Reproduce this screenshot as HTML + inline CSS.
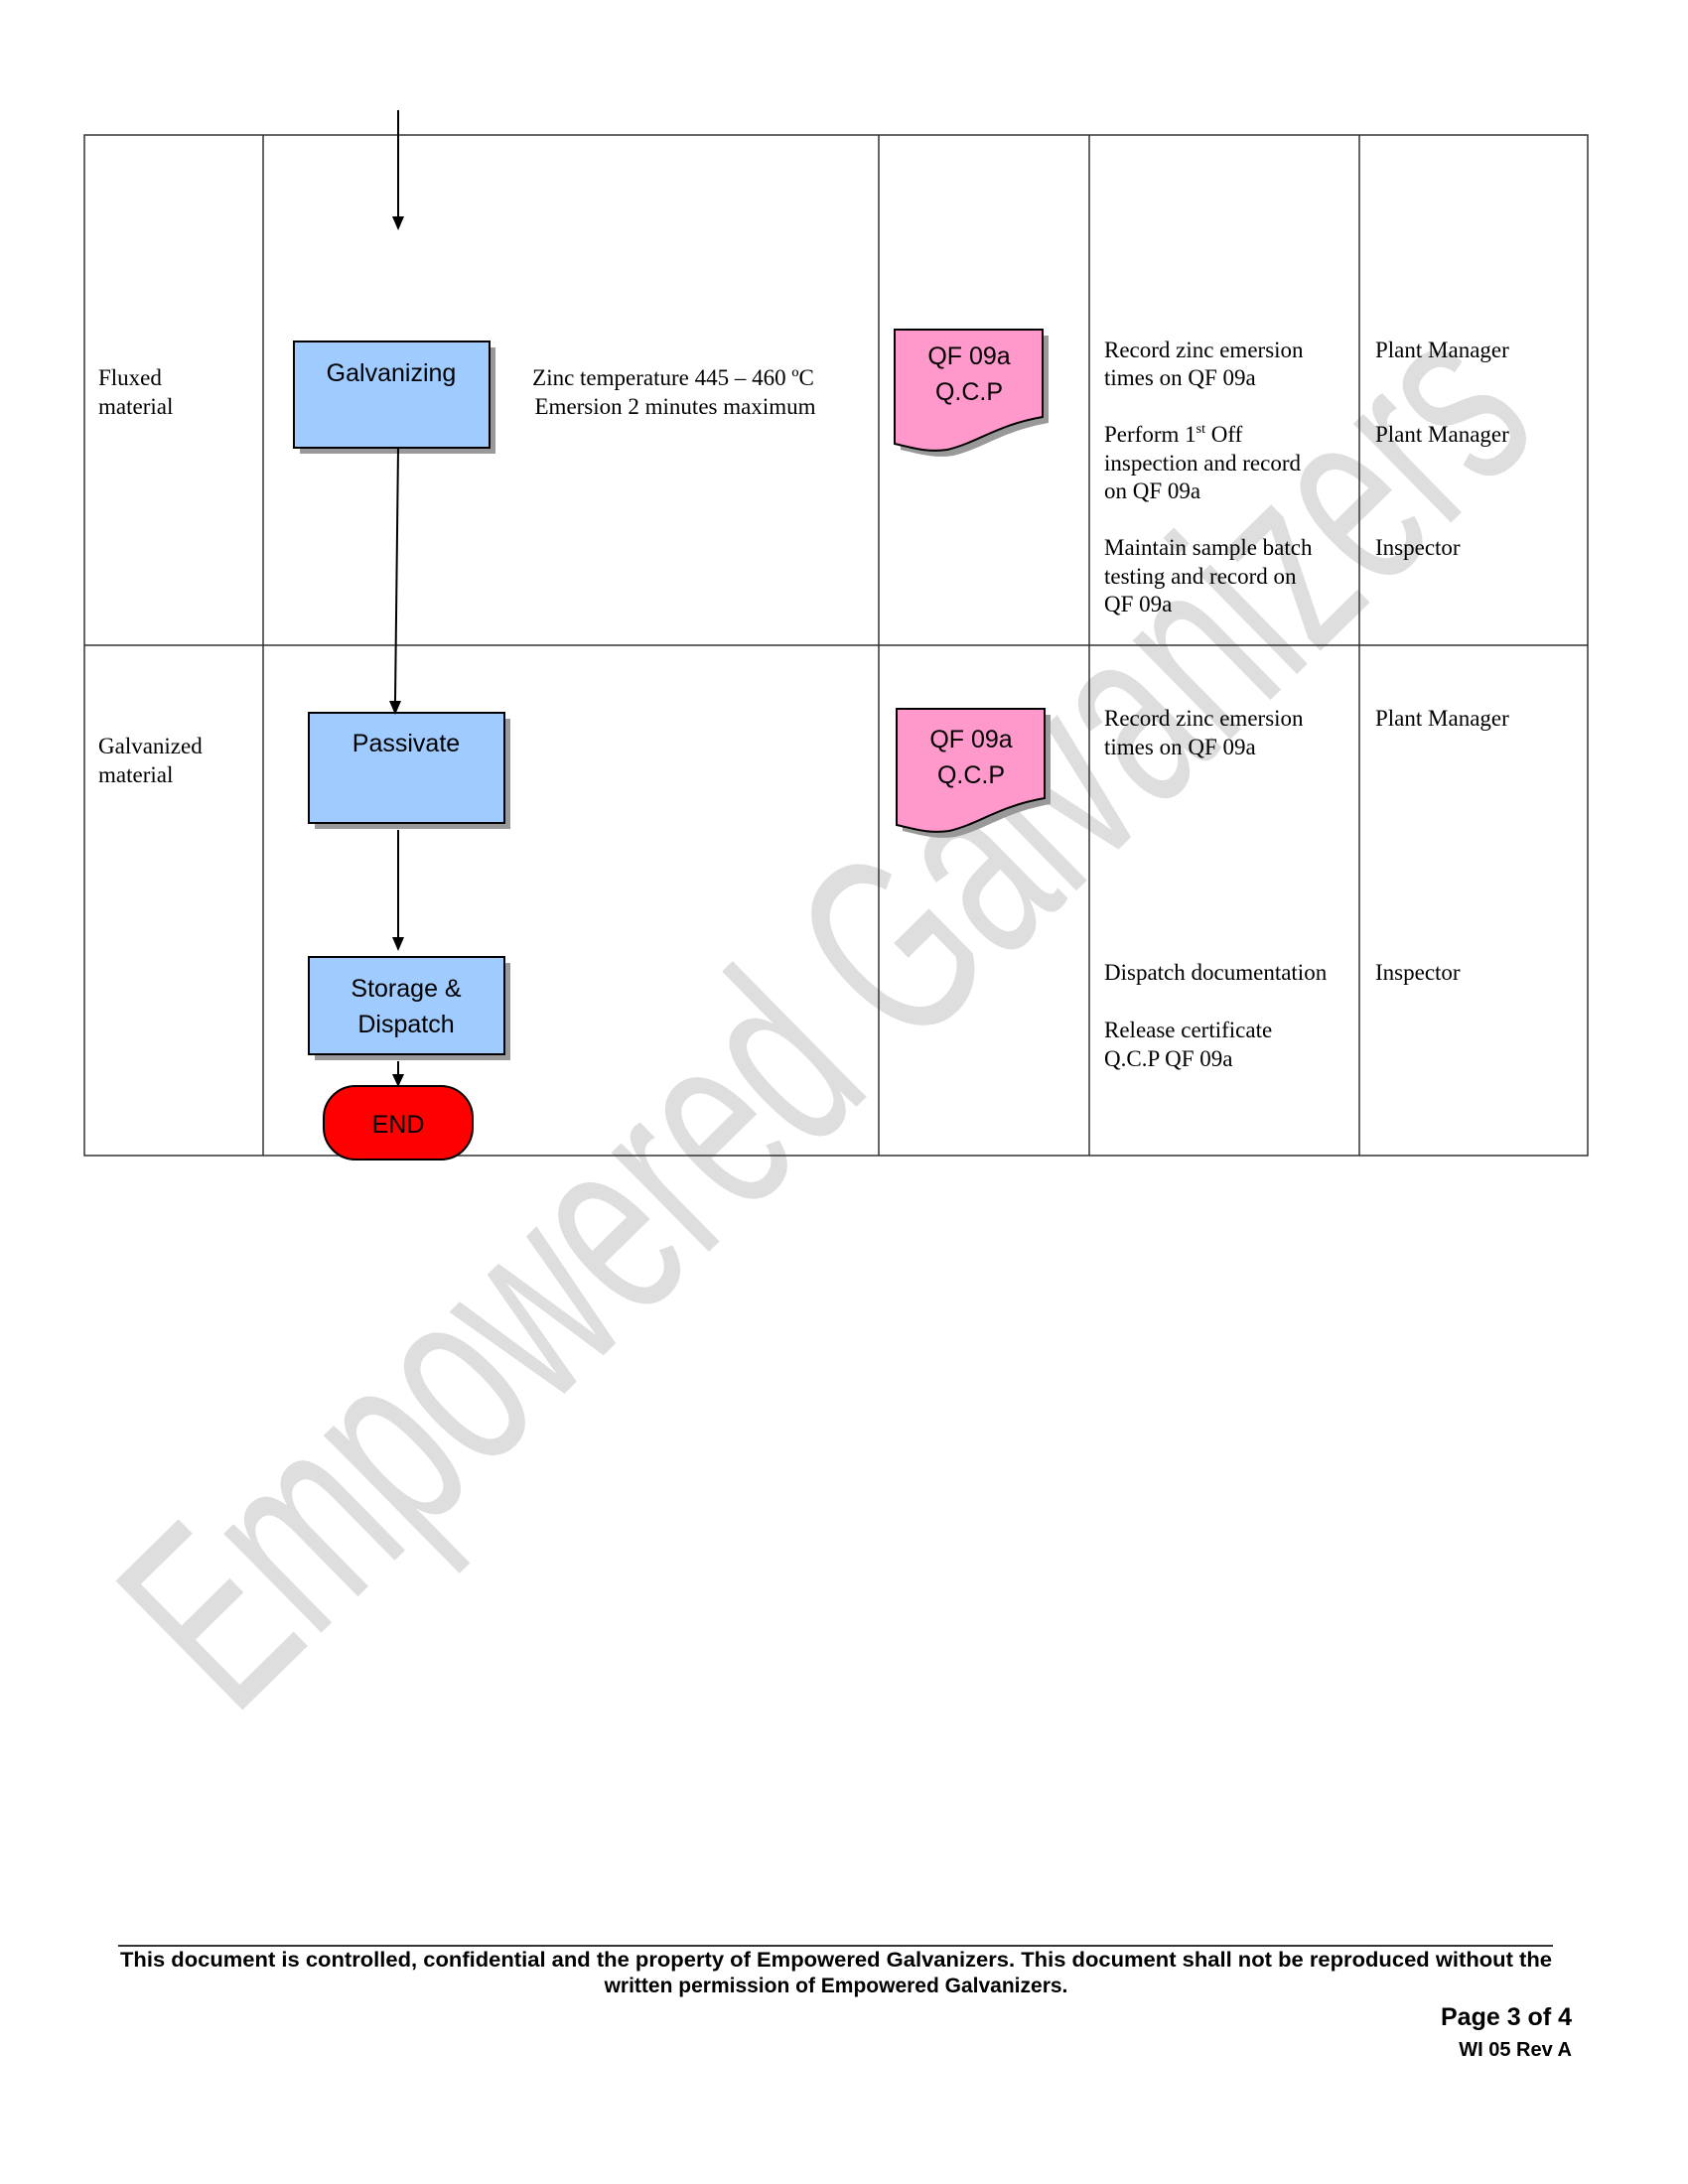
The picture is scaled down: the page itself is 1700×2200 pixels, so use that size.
<!DOCTYPE html>
<html><head><meta charset="utf-8">
<style>
html,body{margin:0;padding:0;background:#fff;}
svg{display:block;}
.s{font-family:"Liberation Serif",serif;font-size:23px;fill:#000;}
.b{font-family:"Liberation Sans",sans-serif;font-size:25px;fill:#000;}
</style></head><body>
<svg width="1700" height="2200" viewBox="0 0 1700 2200" xmlns="http://www.w3.org/2000/svg">
<!-- watermark -->
<text transform="translate(845,1034) rotate(-44.5)" text-anchor="middle" dominant-baseline="middle" font-family="Liberation Sans, sans-serif" font-size="265" fill="#dedede" textLength="1850" lengthAdjust="spacingAndGlyphs">Empowered Galvanizers</text>

<!-- table -->
<g stroke="#333" stroke-width="1.5" fill="none">
<rect x="85" y="136" width="1514" height="1028"/>
<line x1="85" y1="650" x2="1599" y2="650"/>
<line x1="265" y1="136" x2="265" y2="1164"/>
<line x1="885" y1="136" x2="885" y2="1164"/>
<line x1="1097" y1="136" x2="1097" y2="1164"/>
<line x1="1369" y1="136" x2="1369" y2="1164"/>
</g>

<!-- shadows -->
<g fill="#999">
<rect x="302" y="350" width="197" height="107"/>
<rect x="317" y="724" width="197" height="111"/>
<rect x="317" y="970" width="197" height="98"/>
</g>
<g fill="#9fcbff" stroke="#000" stroke-width="2">
<rect x="296" y="344" width="197" height="107"/>
<rect x="311" y="718" width="197" height="111"/>
<rect x="311" y="964" width="197" height="98"/>
</g>
<text class="b" x="394" y="384" text-anchor="middle">Galvanizing</text>
<text class="b" x="409" y="757" text-anchor="middle">Passivate</text>
<text class="b" x="409" y="1004" text-anchor="middle">Storage &amp;</text>
<text class="b" x="409" y="1040" text-anchor="middle">Dispatch</text>

<!-- END -->
<rect x="326" y="1094" width="150" height="74" rx="32" ry="32" fill="#ff0000" stroke="#000" stroke-width="2"/>
<text class="b" x="401" y="1141" text-anchor="middle">END</text>

<!-- arrows -->
<g stroke="#000" stroke-width="2" fill="none">
<line x1="401" y1="111" x2="401" y2="218"/>
<line x1="401" y1="451" x2="398" y2="706"/>
<line x1="401" y1="836" x2="401" y2="946"/>
<line x1="401" y1="1069" x2="401" y2="1082"/>
</g>
<g fill="#000">
<path d="M395,218 L407,218 L401,232 Z"/>
<path d="M392,706 L404,706 L398,720 Z"/>
<path d="M395,944 L407,944 L401,958 Z"/>
<path d="M395,1082 L407,1082 L401,1095 Z"/>
</g>

<!-- documents -->
<g>
<path d="M907,338 L1056,338 L1056,426 C1010,434 990,452 960,459 C940,462 925,457 907,453 Z" fill="#999"/>
<path d="M901,332 L1050,332 L1050,420 C1004,428 984,446 954,453 C934,456 919,451 901,447 Z" fill="#ff99cc" stroke="#000" stroke-width="2"/>
<text class="b" x="976" y="367" text-anchor="middle">QF 09a</text>
<text class="b" x="976" y="403" text-anchor="middle">Q.C.P</text>
<path d="M909,720 L1058,720 L1058,810 C1012,818 992,836 962,843 C942,846 927,841 909,837 Z" fill="#999"/>
<path d="M903,714 L1052,714 L1052,804 C1006,812 986,830 956,837 C936,840 921,835 903,831 Z" fill="#ff99cc" stroke="#000" stroke-width="2"/>
<text class="b" x="978" y="753" text-anchor="middle">QF 09a</text>
<text class="b" x="978" y="789" text-anchor="middle">Q.C.P</text>
</g>

<!-- text -->
<text class="s" x="99" y="388">Fluxed</text>
<text class="s" x="99" y="417">material</text>
<text class="s" x="99" y="759">Galvanized</text>
<text class="s" x="99" y="788">material</text>
<text class="s" x="678" y="388" text-anchor="middle">Zinc temperature 445 – 460 ºC</text>
<text class="s" x="680" y="417" text-anchor="middle">Emersion 2 minutes maximum</text>

<text class="s" x="1112" y="360">Record zinc emersion</text>
<text class="s" x="1112" y="388">times on QF 09a</text>
<text class="s" x="1112" y="445">Perform 1<tspan font-size="14" dy="-9">st</tspan><tspan dy="9"> Off</tspan></text>
<text class="s" x="1112" y="474">inspection and record</text>
<text class="s" x="1112" y="502">on QF 09a</text>
<text class="s" x="1112" y="559">Maintain sample batch</text>
<text class="s" x="1112" y="588">testing and record on</text>
<text class="s" x="1112" y="616">QF 09a</text>
<text class="s" x="1112" y="731">Record zinc emersion</text>
<text class="s" x="1112" y="760">times on QF 09a</text>
<text class="s" x="1112" y="987">Dispatch documentation</text>
<text class="s" x="1112" y="1045">Release certificate</text>
<text class="s" x="1112" y="1074">Q.C.P QF 09a</text>

<text class="s" x="1385" y="360">Plant Manager</text>
<text class="s" x="1385" y="445">Plant Manager</text>
<text class="s" x="1385" y="559">Inspector</text>
<text class="s" x="1385" y="731">Plant Manager</text>
<text class="s" x="1385" y="987">Inspector</text>

<!-- footer -->
<line x1="119" y1="1960" x2="1564" y2="1960" stroke="#333" stroke-width="2"/>
<text x="842" y="1981" text-anchor="middle" font-family="Liberation Sans, sans-serif" font-weight="bold" font-size="21" textLength="1442" lengthAdjust="spacingAndGlyphs">This document is controlled, confidential and the property of Empowered Galvanizers. This document shall not be reproduced without the</text>
<text x="842" y="2007" text-anchor="middle" font-family="Liberation Sans, sans-serif" font-weight="bold" font-size="21">written permission of Empowered Galvanizers.</text>
<text x="1583" y="2040" text-anchor="end" font-family="Liberation Sans, sans-serif" font-weight="bold" font-size="25">Page 3 of 4</text>
<text x="1583" y="2071" text-anchor="end" font-family="Liberation Sans, sans-serif" font-weight="bold" font-size="20">WI 05 Rev A</text>
</svg>
</body></html>
